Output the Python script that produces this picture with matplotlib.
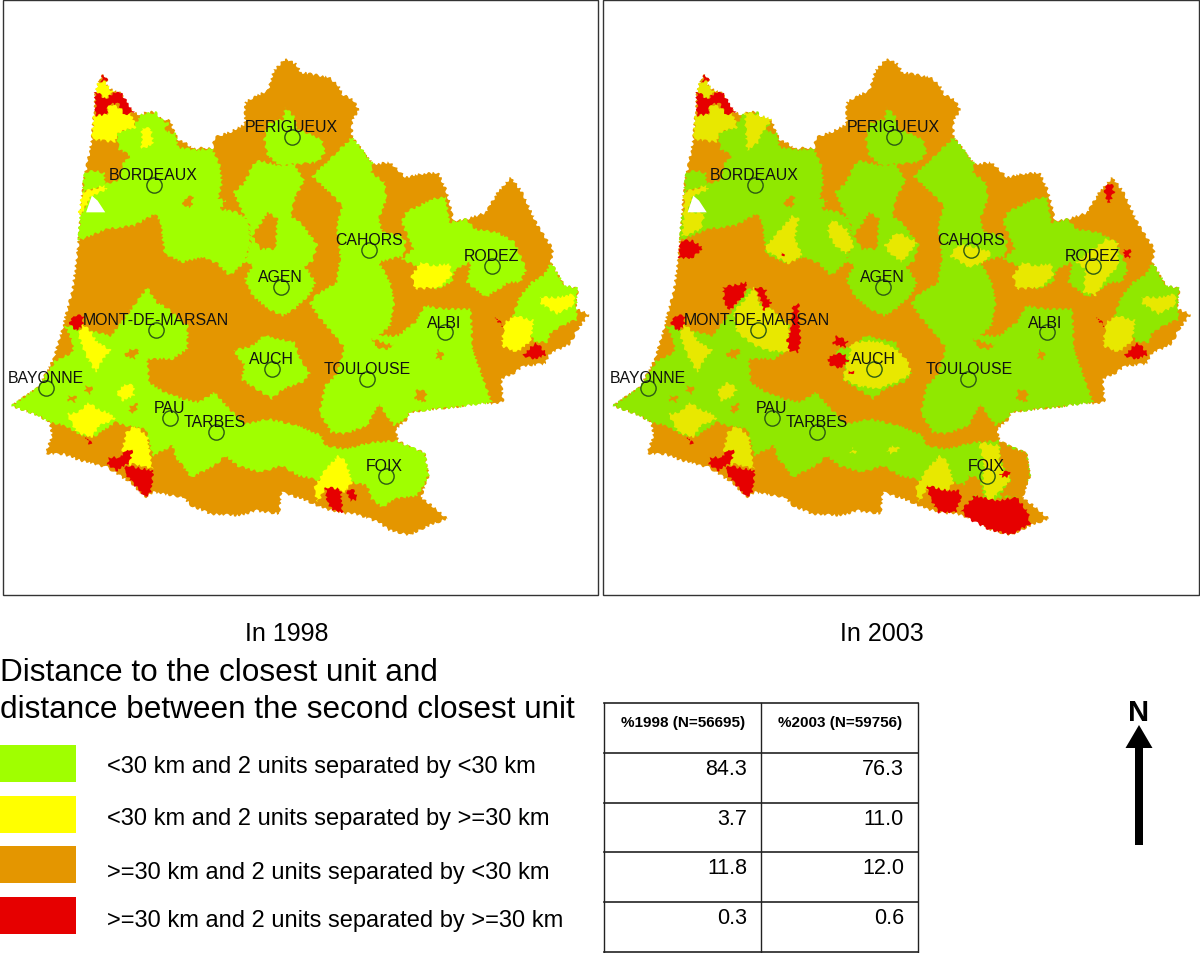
"""Two maps of south-west France: distance to the closest units, 1998 and 2003."""

import matplotlib
matplotlib.use("Agg")
import matplotlib.pyplot as plt
from matplotlib.patches import Polygon, Rectangle

plt.rcParams["font.family"] = ["Liberation Sans", "DejaVu Sans"]

OUTLINE = [(270,75),(280,95),(275,105),(295,125),(315,130),(330,165),(350,190),(372,200),(378,190),(405,188),(412,205),(445,215),(455,245),(465,270),(490,285),(505,300),(535,295),(555,300),(560,265),(600,250),(640,225),(640,160),(670,140),(700,125),(715,65),(745,30),(775,45),(785,70),(815,75),(860,85),(885,110),(895,135),(925,155),(938,185),(920,215),(920,265),(945,300),(975,345),(1020,340),(1060,385),(1100,375),(1145,370),(1165,420),(1175,460),(1185,515),(1220,510),(1270,490),(1300,430),(1335,385),(1365,430),(1385,480),(1405,530),(1445,600),(1440,640),(1475,710),(1510,718),(1505,780),(1540,795),(1510,840),(1490,885),(1435,915),(1425,945),(1370,950),(1340,975),(1310,990),(1315,1060),(1290,1065),(1260,1060),(1190,1075),(1140,1080),(1070,1090),(1065,1110),(1035,1140),(1040,1175),(1080,1200),(1110,1210),(1120,1280),(1100,1345),(1135,1375),(1170,1410),(1130,1425),(1070,1458),(1020,1445),(990,1420),(930,1395),(895,1392),(850,1380),(790,1350),(735,1330),(730,1395),(670,1385),(625,1400),(550,1395),(500,1370),(480,1345),(400,1330),(380,1345),(340,1300),(280,1255),(210,1235),(165,1215),(120,1215),(135,1160),(130,1120),(100,1100),(30,1070),(100,1015),(140,930),(165,830),(190,720),(205,580),(210,500),(215,420),(240,270),(250,130),(260,90)]
NOTCH = [(240,440),(255,455),(275,490),(225,490)]

GREEN_AREAS = [
    [(222,370),(250,365),(272,372),(275,405),(310,395),(320,345),(340,320),(310,300),(305,250),(345,235),(372,195),(410,190),(420,210),(440,222),(430,245),(460,255),(465,295),(505,302),(555,300),(575,350),(580,400),(570,450),(590,455),(575,480),(620,490),(640,505),(650,520),(655,580),(640,640),(600,680),(570,645),(530,625),(475,640),(430,615),(420,520),(405,495),(350,530),(280,540),(205,575),(210,500),(235,440),(270,415),(215,430)],
    [(745,175),(770,205),(775,240),(840,270),(850,310),(830,340),(780,345),(730,350),(700,320),(690,270),(700,225),(740,210)],
    [(660,345),(680,335),(730,350),(770,345),(795,395),(770,450),(760,500),(790,525),(830,590),(815,640),(795,650),(825,700),(810,735),(770,780),(740,800),(700,780),(660,740),(640,690),(660,650),(650,640),(640,640),(655,580),(650,520),(640,505),(610,430),(640,400)],
    [(880,310),(920,265),(945,300),(975,345),(970,370),(1005,400),(1010,450),(990,510),(1000,550),(1050,560),(1060,580),(1055,620),(990,640),(1020,700),(1030,760),(1020,830),(990,860),(1040,860),(1085,820),(1110,770),(1160,780),(1230,780),(1235,900),(1260,980),(1285,1060),(1190,1075),(1140,1080),(1070,1090),(1060,1110),(1030,1130),(990,1065),(960,1130),(900,1155),(865,1150),(835,1090),(850,1010),(880,975),(900,895),(860,840),(830,800),(810,760),(830,735),(880,700),(885,650),(890,620),(880,530),(895,470),(860,430),(815,380),(850,345)],
    [(1060,490),(1130,450),(1165,445),(1175,520),(1220,510),(1240,540),(1300,550),(1345,580),(1375,660),(1360,700),(1330,700),(1270,745),(1220,700),(1230,640),(1190,660),(1180,700),(1140,720),(1085,650),(1050,630),(1080,600),(1050,520)],
    [(1440,640),(1475,710),(1510,718),(1505,780),(1510,810),(1470,830),(1440,850),(1430,880),(1400,880),(1340,800),(1360,740),(1390,700),(1420,680)],
    [(170,830),(215,840),(290,860),(330,800),(385,715),(410,760),(440,780),(490,830),(490,900),(450,930),(385,930),(390,1000),(430,1030),(480,1050),(520,1060),(560,1030),(600,1080),(640,1125),(700,1110),(780,1130),(840,1160),(850,1190),(905,1200),(970,1180),(1035,1175),(1085,1200),(1110,1210),(1120,1280),(1090,1340),(1030,1350),(1000,1375),(970,1350),(960,1310),(920,1300),(850,1300),(820,1290),(780,1280),(735,1250),(680,1270),(620,1250),(590,1220),(560,1250),(500,1285),(460,1225),(450,1190),(400,1220),(380,1140),(330,1130),(300,1120),(250,1160),(215,1160),(170,1130),(130,1120),(100,1100),(30,1070),(100,1015),(145,935),(190,910),(190,880)],
    [(610,905),(660,890),(690,860),(730,870),(770,880),(785,930),(810,975),(790,1000),(740,1020),(710,1050),(670,1020),(630,990),(640,950)],
]
ORANGE_SPOTS = [
    [(480,450),(505,440),(500,475),(478,470)],
    [(660,560),(700,490),(725,510),(720,600),(680,600)],
    [(970,870),(1030,890),(1010,900),(985,895)],
    [(340,900),(365,905),(350,930),(325,920)],
    [(225,1010),(240,1015),(238,1035),(222,1030)],
    [(180,1040),(200,1045),(195,1060),(178,1055)],
    [(340,1070),(360,1065),(355,1090),(338,1090)],
    [(1145,900),(1160,920),(1150,935),(1140,925)],
    [(1090,1020),(1115,1030),(1110,1060),(1085,1050)],
]

YELLOW_1998 = [
    [(255,100),(275,100),(295,130),(275,150),(250,125)],
    [(285,165),(320,180),(345,200),(355,235),(310,250),(300,280),(240,270),(245,200),(280,195)],
    [(370,235),(395,240),(400,285),(370,300)],
    [(215,430),(270,410),(280,420),(240,440),(215,490),(205,500)],
    [(215,825),(240,850),(250,875),(290,905),(270,930),(250,970),(225,920),(205,860)],
    [(325,1005),(350,1010),(350,1040),(320,1055),(305,1030)],
    [(230,1060),(255,1080),(290,1095),(300,1110),(260,1130),(240,1165),(200,1150),(175,1095),(205,1090)],
    [(350,1130),(385,1160),(395,1240),(400,1260),(350,1245),(325,1250),(320,1200),(330,1150)],
    [(885,1220),(905,1240),(920,1300),(900,1330),(850,1320),(830,1360),(820,1320),(850,1260)],
    [(1100,640),(1130,650),(1175,645),(1180,680),(1150,715),(1085,720),(1075,680)],
    [(1345,800),(1395,815),(1385,880),(1350,910),(1310,890),(1315,850),(1320,820)],
    [(1410,745),(1460,745),(1500,735),(1500,770),(1455,795),(1415,765)],
]
RED_1998 = [
    [(270,75),(280,95),(262,97)],
    [(248,125),(275,150),(300,130),(315,130),(350,190),(325,198),(310,165),(285,165),(278,195),(250,200)],
    [(190,800),(220,800),(215,830),(200,845),(182,825)],
    [(1295,805),(1315,830),(1310,832)],
    [(1400,880),(1430,915),(1400,930),(1365,920)],
    [(330,1200),(345,1205),(340,1240),(325,1250),(305,1265),(280,1245),(285,1225),(315,1225)],
    [(330,1250),(400,1265),(395,1330),(380,1345),(345,1300),(325,1270)],
    [(850,1315),(890,1320),(895,1390),(870,1385),(855,1360)],
    [(905,1320),(925,1325),(935,1350),(915,1355)],
    [(225,1165),(240,1185),(235,1190)],
]

YELLOW_2003 = [
    [(255,100),(275,100),(295,130),(275,150),(250,125)],
    [(285,165),(320,180),(345,200),(355,235),(310,250),(300,280),(240,270),(245,200),(280,195)],
    [(375,190),(400,195),(445,210),(420,250),(410,280),(380,305)],
    [(215,430),(270,410),(280,420),(240,440),(225,490),(270,490),(260,540),(210,565),(215,500)],
    [(500,500),(515,510),(505,570),(525,620),(490,645),(450,620),(425,600),(460,550)],
    [(600,510),(640,540),(660,590),(640,615),(610,590),(590,550)],
    [(770,550),(810,570),(825,580),(785,640),(750,610),(740,590)],
    [(930,590),(960,590),(1020,610),(1000,640),(960,655),(910,620)],
    [(1320,570),(1350,580),(1350,650),(1320,690),(1290,740),(1260,730),(1265,660),(1240,640)],
    [(345,790),(375,750),(400,715),(415,770),(445,780),(490,830),(490,910),(440,905),(400,890),(355,850)],
    [(650,885),(690,875),(730,880),(770,900),(800,935),(810,975),(770,1000),(720,1020),(670,1010),(630,990),(640,950),(650,920)],
    [(215,825),(240,850),(250,875),(290,905),(270,930),(250,970),(225,920),(205,860)],
    [(330,1000),(355,1020),(340,1045),(310,1055),(305,1020)],
    [(230,1060),(255,1080),(290,1095),(300,1110),(260,1130),(240,1165),(200,1150),(175,1095),(205,1090)],
    [(350,1130),(385,1160),(395,1240),(400,1260),(350,1245),(325,1250),(320,1200),(330,1150)],
    [(885,1220),(905,1240),(920,1300),(900,1330),(850,1320),(830,1360),(820,1320),(850,1260)],
    [(1100,640),(1130,650),(1175,645),(1180,680),(1150,715),(1085,720),(1075,680)],
    [(1345,800),(1395,815),(1385,880),(1350,910),(1310,890),(1315,850),(1320,820)],
    [(1410,745),(1460,745),(1500,735),(1500,770),(1455,795),(1415,765)],
    [(760,1190),(780,1200),(760,1215),(745,1205)],
    [(655,1195),(665,1210),(650,1215)],
    [(985,1180),(1040,1190),(1040,1240),(1070,1290),(1040,1330),(1010,1360),(995,1300),(1000,1240)],
]
ORANGE_2003 = [
    [(1040,1175),(1080,1200),(1110,1210),(1120,1280),(1100,1345),(1085,1345),(1040,1340),(1070,1290),(1040,1230)],
    [(960,1280),(990,1290),(1000,1350),(975,1340),(935,1340)],
]
RED_2003 = [
    [(270,75),(280,95),(262,97)],
    [(248,125),(275,150),(300,130),(315,130),(350,190),(325,198),(310,165),(285,165),(278,195),(250,200)],
    [(190,800),(220,800),(215,830),(200,845),(182,825)],
    [(1295,805),(1315,830),(1310,832)],
    [(1400,880),(1430,915),(1400,930),(1365,920)],
    [(330,1200),(345,1205),(340,1240),(325,1250),(305,1265),(280,1245),(285,1225),(315,1225)],
    [(330,1250),(400,1265),(395,1330),(380,1345),(345,1300),(325,1270)],
    [(225,1165),(240,1185),(235,1190)],
    [(205,575),(240,575),(265,598),(235,628),(202,628)],
    [(318,715),(380,700),(372,740),(335,785),(320,760)],
    [(400,715),(430,720),(430,745),(445,760),(425,785),(415,750)],
    [(500,770),(515,765),(515,800),(520,880),(515,910),(490,905),(485,870),(495,840)],
    [(615,860),(645,880),(635,895),(605,885)],
    [(605,915),(635,915),(645,935),(625,957),(600,950),(590,930)],
    [(645,965),(660,968),(650,978)],
    [(1320,400),(1335,410),(1340,430),(1325,465),(1315,430)],
    [(1365,600),(1382,605),(1380,630),(1365,620)],
    [(1040,1275),(1065,1265),(1068,1280),(1050,1285)],
    [(470,612),(480,612),(475,620)],
    [(850,1310),(905,1325),(935,1325),(940,1350),(925,1390),(880,1390),(860,1350)],
    [(940,1385),(975,1340),(1030,1355),(1085,1345),(1115,1390),(1120,1425),(1070,1458),(1010,1440),(960,1410)],
]

CITY_NAMES = ["PERIGUEUX", "BORDEAUX", "CAHORS", "RODEZ", "AGEN", "ALBI", "MONT-DE-MARSAN",
              "AUCH", "TOULOUSE", "BAYONNE", "PAU", "TARBES", "FOIX"]
CITY_X = [764, 402, 965, 1285, 735, 1163, 408, 711, 958, 121, 445, 564, 1008]
CITY_Y = [264, 407, 604, 650, 714, 850, 842, 959, 990, 1016, 1106, 1149, 1280]
LABEL_X = [762, 400, 965, 1284, 733, 1160, 407, 710, 960, 120, 444, 562, 1005]
LABEL_Y = [228, 372, 568, 614, 678, 815, 807, 923, 954, 980, 1070, 1113, 1245]

LEGEND_LABELS = ["<30 km and 2 units separated by <30 km",
                 "<30 km and 2 units separated by >=30 km",
                 ">=30 km and 2 units separated by <30 km",
                 ">=30 km and 2 units separated by >=30 km"]
TABLE_HEAD = ["%1998 (N=56695)", "%2003 (N=59756)"]
PCT_1998 = ["84.3", "3.7", "11.8", "0.3"]
PCT_2003 = ["76.3", "11.0", "12.0", "0.6"]

ORANGE = "#e49600"
RED = "#e60000"


def add_area(ax, pts, col):
    patch = Polygon(pts, fc=col, lw=0)
    patch.set_sketch_params(1.3, 7, 3)  # the units have rough edges
    ax.add_patch(patch)


def draw_map(fig, left, green, yellow_col, yellow, red, extra_orange):
    ax = fig.add_axes([left / 1200, 1 - 550 / 954, 600 / 1200, 500 / 954])
    ax.set_xlim(0, 1568); ax.set_ylim(1500, 0); ax.axis("off")
    add_area(ax, OUTLINE, ORANGE)
    for pts in GREEN_AREAS:
        add_area(ax, pts, green)
    for pts in ORANGE_SPOTS + extra_orange:
        add_area(ax, pts, ORANGE)
    for pts in yellow:
        add_area(ax, pts, yellow_col)
    for pts in red:
        add_area(ax, pts, RED)
    ax.add_patch(Polygon(NOTCH, fc="white", lw=0))
    ax.plot(CITY_X, CITY_Y, "o", mfc="none", mec="#2c5a14", ms=11, mew=1)
    for name, x, y in zip(CITY_NAMES, LABEL_X, LABEL_Y):
        ax.text(x, y + 5, name, fontsize=11.4, color="#111", ha="center", va="center")


fig = plt.figure(figsize=(12, 9.54), dpi=100)
draw_map(fig, 0, "#a0ff00", "#ffff00", YELLOW_1998, RED_1998, [])
draw_map(fig, 601.5, "#90e800", "#e8e800", YELLOW_2003, RED_2003, ORANGE_2003)

# everything else is placed in picture pixels
ax = fig.add_axes([0, 0, 1, 1])
ax.set_xlim(0, 1200); ax.set_ylim(954, 0); ax.axis("off"); ax.patch.set_alpha(0)

ax.add_patch(Rectangle((3, 0.5), 595, 595, fc="none", ec="#333", lw=1))
ax.add_patch(Rectangle((603, 0.5), 596, 595, fc="none", ec="#333", lw=1))
ax.text(287, 634, "In 1998", fontsize=18, ha="center", va="center")
ax.text(882, 634, "In 2003", fontsize=18, ha="center", va="center")
ax.text(0, 673, "Distance to the closest unit and", fontsize=22.7, ha="left", va="center")
ax.text(0, 710, "distance between the second closest unit", fontsize=22.7, ha="left", va="center")

swatch_top = [746, 797, 847, 898]
swatch_cols = ["#a0ff00", "#ffff00", ORANGE, RED]
label_y = [767, 819, 873, 921]
for top, col, y, label in zip(swatch_top, swatch_cols, label_y, LEGEND_LABELS):
    ax.add_patch(Rectangle((0, top), 76, 37, fc=col, lw=0))
    ax.text(107, y, label, fontsize=17, ha="left", va="center")

row_y = [704, 754, 804, 853, 903, 953]
for y in row_y:
    ax.plot([604, 918], [y, y], color="#222", lw=1.2)
for x in [604, 761, 918]:
    ax.plot([x, x], [704, 953], color="#222", lw=1)
ax.text(683, 723, TABLE_HEAD[0], fontsize=11, fontweight="bold", ha="center", va="center")
ax.text(840, 723, TABLE_HEAD[1], fontsize=11, fontweight="bold", ha="center", va="center")
for y, v1, v2 in zip(row_y[1:], PCT_1998, PCT_2003):
    ax.text(747, y + 16, v1, fontsize=15.5, ha="right", va="center")
    ax.text(904, y + 16, v2, fontsize=15.5, ha="right", va="center")

ax.arrow(1139, 846, 0, -120, width=8, head_width=27, head_length=23,
         length_includes_head=True, fc="black", ec="black", lw=0)
ax.text(1139, 713, "N", fontsize=21, fontweight="bold", ha="center", va="center")

fig.savefig("out.png", dpi=100)
